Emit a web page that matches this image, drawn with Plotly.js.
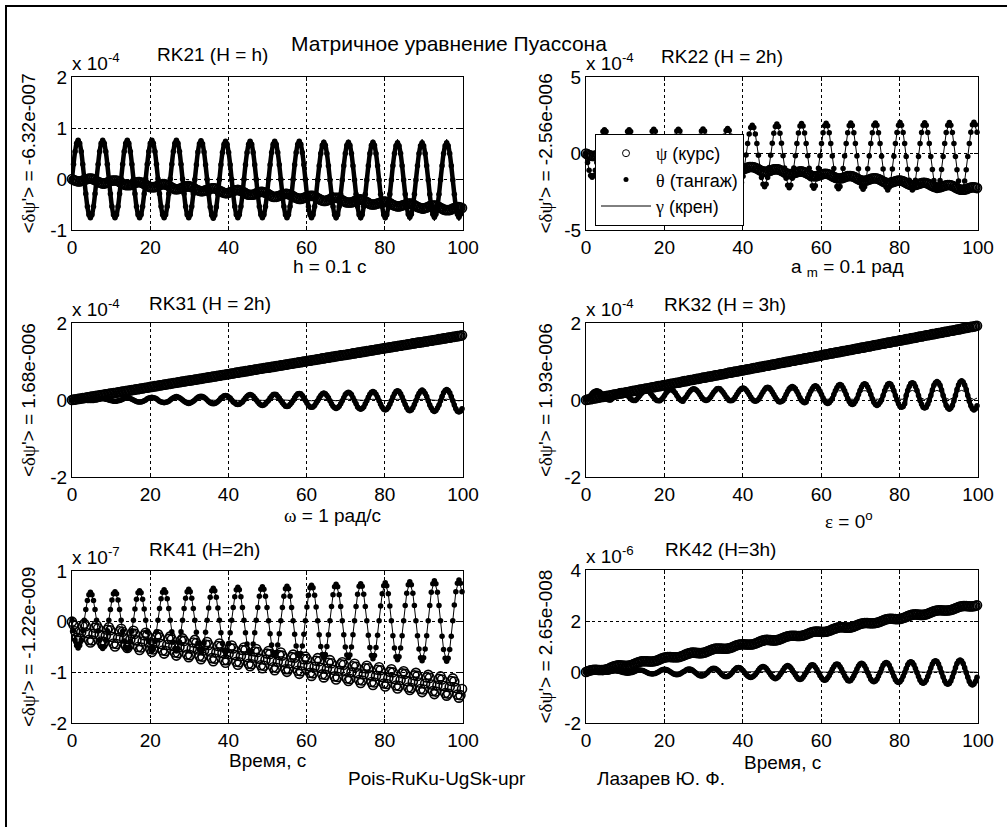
<!DOCTYPE html>
<html><head><meta charset="utf-8">
<script src="https://cdn.plot.ly/plotly-3.0.1.min.js"></script>
<style>html,body{margin:0;padding:0;background:#fff}#chart{width:1007px;height:827px}</style>
</head><body><div id="chart"></div>
<script>
// time samples, s (markers psi/theta)
const t = [
0,.39,.79,1.18,1.57,1.96,2.36,2.75,3.14,3.53,3.93,4.32,4.71,5.11,5.5,5.89,
6.28,6.68,7.07,7.46,7.85,8.25,8.64,9.03,9.42,9.82,10.21,10.6,11,11.39,11.78,12.17,
12.57,12.96,13.35,13.74,14.14,14.53,14.92,15.32,15.71,16.1,16.49,16.89,17.28,17.67,18.06,18.46,
18.85,19.24,19.64,20.03,20.42,20.81,21.21,21.6,21.99,22.38,22.78,23.17,23.56,23.95,24.35,24.74,
25.13,25.53,25.92,26.31,26.7,27.1,27.49,27.88,28.27,28.67,29.06,29.45,29.85,30.24,30.63,31.02,
31.42,31.81,32.2,32.59,32.99,33.38,33.77,34.16,34.56,34.95,35.34,35.74,36.13,36.52,36.91,37.31,
37.7,38.09,38.48,38.88,39.27,39.66,40.06,40.45,40.84,41.23,41.63,42.02,42.41,42.8,43.2,43.59,
43.98,44.37,44.77,45.16,45.55,45.95,46.34,46.73,47.12,47.52,47.91,48.3,48.69,49.09,49.48,49.87,
50.27,50.66,51.05,51.44,51.84,52.23,52.62,53.01,53.41,53.8,54.19,54.59,54.98,55.37,55.76,56.16,
56.55,56.94,57.33,57.73,58.12,58.51,58.9,59.3,59.69,60.08,60.48,60.87,61.26,61.65,62.05,62.44,
62.83,63.22,63.62,64.01,64.4,64.8,65.19,65.58,65.97,66.37,66.76,67.15,67.54,67.94,68.33,68.72,
69.12,69.51,69.9,70.29,70.69,71.08,71.47,71.86,72.26,72.65,73.04,73.43,73.83,74.22,74.61,75.01,
75.4,75.79,76.18,76.58,76.97,77.36,77.75,78.15,78.54,78.93,79.33,79.72,80.11,80.5,80.9,81.29,
81.68,82.07,82.47,82.86,83.25,83.64,84.04,84.43,84.82,85.22,85.61,86,86.39,86.79,87.18,87.57,
87.96,88.36,88.75,89.14,89.54,89.93,90.32,90.71,91.11,91.5,91.89,92.28,92.68,93.07,93.46,93.86,
94.25,94.64,95.03,95.43,95.82,96.21,96.6,97,97.39,97.78,98.17,98.57,98.96,99.35,99.75];
// time samples, s (gamma line)
const tG = [
0,.79,1.57,2.36,3.14,3.93,4.71,5.5, 6.28,7.07,7.85,8.64,9.42,10.21,11,11.78,
12.57,13.35,14.14,14.92,15.71,16.49,17.28,18.06, 18.85,19.64,20.42,21.21,21.99,22.78,23.56,24.35,
25.13,25.92,26.7,27.49,28.27,29.06,29.85,30.63, 31.42,32.2,32.99,33.77,34.56,35.34,36.13,36.91,
37.7,38.48,39.27,40.06,40.84,41.63,42.41,43.2, 43.98,44.77,45.55,46.34,47.12,47.91,48.69,49.48,
50.27,51.05,51.84,52.62,53.41,54.19,54.98,55.76, 56.55,57.33,58.12,58.9,59.69,60.48,61.26,62.05,
62.83,63.62,64.4,65.19,65.97,66.76,67.54,68.33, 69.12,69.9,70.69,71.47,72.26,73.04,73.83,74.61,
75.4,76.18,76.97,77.75,78.54,79.33,80.11,80.9, 81.68,82.47,83.25,84.04,84.82,85.61,86.39,87.18,
87.96,88.75,89.54,90.32,91.11,91.89,92.68,93.46, 94.25,95.03,95.82,96.6,97.39,98.17,98.96,99.75];

// ---------- RK21 (x 1e-4) ----------
const rk21_psi = [
0,-.02,-.03,-.04,-.05,-.05,-.04,-.03,-.02,-.01,0,.01,.01,.01,-.01,-.02,
-.04,-.06,-.07,-.08,-.09,-.09,-.08,-.07,-.06,-.04,-.03,-.03,-.03,-.03,-.04,-.06,
-.08,-.09,-.11,-.12,-.12,-.12,-.12,-.11,-.09,-.08,-.07,-.06,-.06,-.07,-.08,-.1,
-.11,-.13,-.15,-.16,-.16,-.16,-.16,-.15,-.13,-.12,-.11,-.1,-.1,-.11,-.12,-.13,
-.15,-.17,-.18,-.2,-.2,-.2,-.19,-.18,-.17,-.16,-.15,-.14,-.14,-.15,-.16,-.17,
-.19,-.21,-.22,-.23,-.24,-.24,-.23,-.22,-.21,-.2,-.19,-.18,-.18,-.18,-.19,-.21,
-.23,-.24,-.26,-.27,-.28,-.28,-.27,-.26,-.25,-.23,-.22,-.22,-.21,-.22,-.23,-.25,
-.26,-.28,-.3,-.31,-.31,-.31,-.31,-.3,-.28,-.27,-.26,-.25,-.25,-.26,-.27,-.28,
-.3,-.32,-.34,-.35,-.35,-.35,-.34,-.33,-.32,-.31,-.3,-.29,-.29,-.3,-.31,-.32,
-.34,-.36,-.37,-.38,-.39,-.39,-.38,-.37,-.36,-.35,-.34,-.33,-.33,-.33,-.34,-.36,
-.38,-.39,-.41,-.42,-.43,-.43,-.42,-.41,-.4,-.38,-.37,-.37,-.37,-.37,-.38,-.4,
-.42,-.43,-.45,-.46,-.46,-.46,-.46,-.45,-.43,-.42,-.41,-.4,-.4,-.41,-.42,-.44,
-.45,-.47,-.49,-.5,-.5,-.5,-.49,-.48,-.47,-.46,-.45,-.44,-.44,-.45,-.46,-.47,
-.49,-.51,-.52,-.53,-.54,-.54,-.53,-.52,-.51,-.5,-.49,-.48,-.48,-.48,-.5,-.51,
-.53,-.55,-.56,-.57,-.58,-.58,-.57,-.56,-.55,-.53,-.52,-.52,-.52,-.52,-.53,-.55,
-.57,-.58,-.6,-.61,-.61,-.61,-.61,-.6,-.58,-.57,-.56,-.55,-.55,-.56,-.57];
const rk21_theta = [
0,.29,.54,.7,.76,.7,.54,.29,0,-.29,-.54,-.7,-.76,-.7,-.54,-.29,
0,.29,.54,.7,.76,.7,.54,.29,0,-.29,-.54,-.7,-.76,-.7,-.54,-.29,
0,.29,.54,.7,.76,.7,.54,.29,0,-.29,-.54,-.7,-.76,-.7,-.54,-.29,
0,.29,.54,.7,.76,.7,.54,.29,0,-.29,-.54,-.7,-.76,-.7,-.54,-.29,
0,.29,.54,.7,.76,.7,.54,.29,0,-.29,-.54,-.7,-.76,-.7,-.54,-.29,
-.01,.28,.53,.69,.75,.69,.53,.28,-.01,-.3,-.55,-.71,-.77,-.71,-.55,-.3,
-.01,.28,.52,.68,.74,.68,.52,.28,-.01,-.3,-.54,-.7,-.76,-.7,-.54,-.3,
-.01,.28,.52,.68,.74,.68,.52,.28,-.01,-.3,-.54,-.7,-.76,-.7,-.54,-.3,
-.01,.28,.52,.68,.74,.68,.52,.28,-.01,-.3,-.54,-.7,-.76,-.7,-.54,-.3,
-.01,.28,.52,.68,.74,.68,.52,.28,-.01,-.3,-.54,-.7,-.76,-.7,-.54,-.3,
-.02,.26,.5,.66,.72,.66,.5,.26,-.02,-.3,-.54,-.7,-.76,-.7,-.54,-.3,
-.02,.26,.5,.66,.72,.66,.5,.26,-.02,-.3,-.54,-.7,-.76,-.7,-.54,-.3,
-.02,.26,.5,.66,.72,.66,.5,.26,-.02,-.3,-.54,-.7,-.76,-.7,-.54,-.3,
-.02,.26,.5,.65,.71,.65,.5,.26,-.02,-.3,-.54,-.69,-.75,-.69,-.54,-.3,
-.02,.26,.5,.65,.71,.65,.5,.26,-.02,-.3,-.54,-.69,-.75,-.69,-.54,-.3,
-.02,.26,.5,.65,.71,.65,.5,.26,-.02,-.3,-.54,-.69,-.75,-.69,-.54];
const rk21_gamma = [
0,.54,.77,.54,0,-.54,-.77,-.54, 0,.54,.77,.54,0,-.54,-.77,-.54,
0,.54,.77,.54,0,-.54,-.77,-.54, 0,.54,.77,.54,0,-.54,-.77,-.54,
0,.54,.77,.54,0,-.54,-.77,-.54, -.01,.53,.76,.53,-.01,-.55,-.78,-.55,
-.01,.54,.77,.54,-.01,-.56,-.79,-.56, -.01,.54,.77,.54,-.01,-.56,-.79,-.56,
-.01,.54,.77,.54,-.01,-.56,-.79,-.56, -.01,.54,.77,.54,-.01,-.56,-.79,-.56,
-.02,.54,.77,.54,-.02,-.58,-.81,-.58, -.02,.54,.77,.54,-.02,-.58,-.81,-.58,
-.02,.54,.77,.54,-.02,-.58,-.81,-.58, -.02,.55,.78,.55,-.02,-.59,-.82,-.59,
-.02,.55,.78,.55,-.02,-.59,-.82,-.59, -.02,.55,.78,.55,-.02,-.59,-.82,-.59];

// ---------- RK22 (x 1e-4) ----------
const rk22_psi = [
0,-.06,-.1,-.14,-.16,-.16,-.14,-.11,-.07,-.04,-.01,.01,.01,-.01,-.04,-.09,
-.15,-.2,-.25,-.29,-.31,-.31,-.29,-.26,-.22,-.19,-.16,-.14,-.14,-.16,-.19,-.24,
-.3,-.35,-.4,-.43,-.45,-.45,-.44,-.41,-.37,-.33,-.3,-.29,-.29,-.3,-.34,-.39,
-.44,-.5,-.55,-.58,-.6,-.6,-.58,-.55,-.52,-.48,-.45,-.43,-.43,-.45,-.49,-.54,
-.59,-.65,-.69,-.73,-.75,-.75,-.73,-.7,-.67,-.63,-.6,-.58,-.58,-.6,-.64,-.68,
-.74,-.79,-.84,-.88,-.9,-.9,-.88,-.85,-.81,-.78,-.75,-.73,-.73,-.75,-.78,-.83,
-.89,-.94,-.99,-1.03,-1.04,-1.04,-1.03,-1,-.96,-.92,-.89,-.88,-.88,-.9,-.93,-.98,
-1.03,-1.09,-1.14,-1.17,-1.19,-1.19,-1.17,-1.15,-1.11,-1.07,-1.04,-1.03,-1.03,-1.04,-1.08,-1.13,
-1.18,-1.24,-1.29,-1.32,-1.34,-1.34,-1.32,-1.29,-1.26,-1.22,-1.19,-1.17,-1.17,-1.19,-1.23,-1.27,
-1.33,-1.38,-1.43,-1.47,-1.49,-1.49,-1.47,-1.44,-1.4,-1.37,-1.34,-1.32,-1.32,-1.34,-1.37,-1.42,
-1.48,-1.53,-1.58,-1.62,-1.63,-1.63,-1.62,-1.59,-1.55,-1.51,-1.48,-1.47,-1.47,-1.49,-1.52,-1.57,
-1.63,-1.68,-1.73,-1.76,-1.78,-1.78,-1.77,-1.74,-1.7,-1.66,-1.63,-1.62,-1.62,-1.63,-1.67,-1.72,
-1.77,-1.83,-1.88,-1.91,-1.93,-1.93,-1.91,-1.88,-1.85,-1.81,-1.78,-1.76,-1.76,-1.78,-1.82,-1.86,
-1.92,-1.98,-2.02,-2.06,-2.08,-2.08,-2.06,-2.03,-1.99,-1.96,-1.93,-1.91,-1.91,-1.93,-1.96,-2.01,
-2.07,-2.12,-2.17,-2.21,-2.23,-2.23,-2.21,-2.18,-2.14,-2.11,-2.08,-2.06,-2.06,-2.08,-2.11,-2.16,
-2.22,-2.27,-2.32,-2.36,-2.37,-2.37,-2.36,-2.33,-2.29,-2.25,-2.22,-2.21,-2.21,-2.23,-2.26];
const rk22_theta = [
0,-.59,-1.1,-1.43,-1.55,-1.43,-1.1,-.59,0,.59,1.1,1.43,1.55,1.43,1.1,.59,
0,-.59,-1.1,-1.43,-1.55,-1.43,-1.1,-.59,0,.59,1.1,1.43,1.55,1.43,1.1,.59,
-.02,-.63,-1.15,-1.5,-1.62,-1.5,-1.15,-.63,-.02,.59,1.11,1.46,1.58,1.46,1.11,.59,
-.03,-.65,-1.18,-1.53,-1.65,-1.53,-1.18,-.65,-.03,.59,1.12,1.47,1.59,1.47,1.12,.59,
-.05,-.68,-1.22,-1.57,-1.7,-1.57,-1.22,-.68,-.05,.58,1.12,1.47,1.6,1.47,1.12,.58,
-.06,-.71,-1.26,-1.63,-1.76,-1.63,-1.26,-.71,-.06,.59,1.14,1.51,1.64,1.51,1.14,.59,
-.1,-.85,-1.48,-1.9,-2.05,-1.9,-1.48,-.85,-.1,.65,1.28,1.7,1.85,1.7,1.28,.65,
-.12,-.91,-1.57,-2.01,-2.17,-2.01,-1.57,-.91,-.12,.67,1.33,1.77,1.93,1.77,1.33,.67,
-.14,-.94,-1.62,-2.08,-2.24,-2.08,-1.62,-.94,-.14,.66,1.34,1.8,1.96,1.8,1.34,.66,
-.15,-.96,-1.65,-2.11,-2.27,-2.11,-1.65,-.96,-.15,.66,1.35,1.81,1.97,1.81,1.35,.66,
-.16,-.98,-1.68,-2.15,-2.31,-2.15,-1.68,-.98,-.16,.66,1.36,1.83,1.99,1.83,1.36,.66,
-.17,-1,-1.7,-2.18,-2.34,-2.18,-1.7,-1,-.17,.66,1.36,1.84,2,1.84,1.36,.66,
-.18,-1.02,-1.74,-2.21,-2.38,-2.21,-1.74,-1.02,-.18,.66,1.38,1.85,2.02,1.85,1.38,.66,
-.19,-1.03,-1.75,-2.22,-2.39,-2.22,-1.75,-1.03,-.19,.65,1.37,1.84,2.01,1.84,1.37,.65,
-.2,-1.05,-1.77,-2.25,-2.42,-2.25,-1.77,-1.05,-.2,.65,1.37,1.85,2.02,1.85,1.37,.65,
-.2,-1.06,-1.79,-2.28,-2.45,-2.28,-1.79,-1.06,-.2,.66,1.39,1.88,2.05,1.88,1.39];
const rk22_gamma = [
0,-1.1,-1.55,-1.1,0,1.1,1.55,1.1, 0,-1.1,-1.55,-1.1,0,1.1,1.55,1.1,
-.02,-1.15,-1.62,-1.15,-.02,1.11,1.58,1.11, -.03,-1.18,-1.65,-1.18,-.03,1.12,1.59,1.12,
-.05,-1.22,-1.7,-1.22,-.05,1.12,1.6,1.12, -.06,-1.26,-1.76,-1.26,-.06,1.14,1.64,1.14,
-.1,-1.48,-2.05,-1.48,-.1,1.28,1.85,1.28, -.12,-1.57,-2.17,-1.57,-.12,1.33,1.93,1.33,
-.14,-1.62,-2.24,-1.62,-.14,1.34,1.96,1.34, -.15,-1.65,-2.27,-1.65,-.15,1.35,1.97,1.35,
-.16,-1.68,-2.31,-1.68,-.16,1.36,1.99,1.36, -.17,-1.7,-2.34,-1.7,-.17,1.36,2,1.36,
-.18,-1.74,-2.38,-1.74,-.18,1.38,2.02,1.38, -.19,-1.75,-2.39,-1.75,-.19,1.37,2.01,1.37,
-.2,-1.77,-2.42,-1.77,-.2,1.37,2.02,1.37, -.2,-1.79,-2.45,-1.79,-.2,1.39,2.05,1.39];

// ---------- RK31 (x 1e-4) ----------
const rk31_psi = [
0,.01,.01,.02,.03,.03,.04,.05,.05,.06,.07,.07,.08,.09,.09,.1,
.11,.11,.12,.13,.13,.14,.15,.15,.16,.17,.17,.18,.18,.19,.2,.2,
.21,.22,.22,.23,.24,.24,.25,.26,.26,.27,.28,.28,.29,.3,.3,.31,
.32,.32,.33,.34,.34,.35,.36,.36,.37,.38,.38,.39,.4,.4,.41,.42,
.42,.43,.44,.44,.45,.46,.46,.47,.48,.48,.49,.5,.5,.51,.51,.52,
.53,.53,.54,.55,.55,.56,.57,.57,.58,.59,.59,.6,.61,.61,.62,.63,
.63,.64,.65,.65,.66,.67,.67,.68,.69,.69,.7,.71,.71,.72,.73,.73,
.74,.75,.75,.76,.77,.77,.78,.79,.79,.8,.81,.81,.82,.83,.83,.84,
.84,.85,.86,.86,.87,.88,.88,.89,.9,.9,.91,.92,.92,.93,.94,.94,
.95,.96,.96,.97,.98,.98,.99,1,1,1.01,1.02,1.02,1.03,1.04,1.04,1.05,
1.06,1.06,1.07,1.08,1.08,1.09,1.1,1.1,1.11,1.12,1.12,1.13,1.14,1.14,1.15,1.16,
1.16,1.17,1.17,1.18,1.19,1.19,1.2,1.21,1.21,1.22,1.23,1.23,1.24,1.25,1.25,1.26,
1.27,1.27,1.28,1.29,1.29,1.3,1.31,1.31,1.32,1.33,1.33,1.34,1.35,1.35,1.36,1.37,
1.37,1.38,1.39,1.39,1.4,1.41,1.41,1.42,1.43,1.43,1.44,1.45,1.45,1.46,1.47,1.47,
1.48,1.49,1.49,1.5,1.5,1.51,1.52,1.52,1.53,1.54,1.54,1.55,1.56,1.56,1.57,1.58,
1.58,1.59,1.6,1.6,1.61,1.62,1.62,1.63,1.64,1.64,1.65,1.66,1.66,1.67,1.68];
const rk31_theta = [
0,0,.01,.01,.01,.01,.01,0,0,0,-.01,-.01,-.01,-.01,-.01,0,
0,.01,.02,.03,.03,.03,.02,.01,0,-.01,-.02,-.03,-.03,-.03,-.02,-.01,
0,.02,.04,.05,.05,.05,.04,.02,0,-.02,-.04,-.05,-.05,-.05,-.04,-.02,
0,.03,.05,.06,.07,.06,.05,.03,0,-.03,-.05,-.06,-.07,-.06,-.05,-.03,
0,.03,.06,.08,.09,.08,.06,.03,0,-.03,-.06,-.08,-.09,-.08,-.06,-.03,
0,.04,.07,.09,.1,.09,.07,.04,0,-.04,-.07,-.09,-.1,-.09,-.07,-.04,
0,.05,.08,.11,.12,.11,.08,.05,0,-.05,-.08,-.11,-.12,-.11,-.08,-.05,
0,.05,.1,.13,.14,.13,.1,.05,0,-.05,-.1,-.13,-.14,-.13,-.1,-.05,
-.01,.05,.1,.14,.15,.14,.1,.05,-.01,-.07,-.12,-.16,-.17,-.16,-.12,-.07,
-.01,.06,.12,.16,.17,.16,.12,.06,-.01,-.08,-.14,-.18,-.19,-.18,-.14,-.08,
-.02,.06,.12,.16,.18,.16,.12,.06,-.02,-.1,-.16,-.2,-.22,-.2,-.16,-.1,
-.02,.06,.14,.18,.2,.18,.14,.06,-.02,-.1,-.18,-.22,-.24,-.22,-.18,-.1,
-.02,.07,.15,.2,.22,.2,.15,.07,-.02,-.11,-.19,-.24,-.26,-.24,-.19,-.11,
-.02,.08,.16,.22,.24,.22,.16,.08,-.02,-.12,-.2,-.26,-.28,-.26,-.2,-.12,
-.02,.09,.17,.23,.26,.23,.17,.09,-.02,-.13,-.21,-.27,-.3,-.27,-.21,-.13,
-.02,.09,.19,.25,.27,.25,.19,.09,-.02,-.13,-.23,-.29,-.31,-.29,-.23];
const rk31_gamma = [
0,.01,.01,.01,0,-.01,-.01,-.01, 0,.01,.01,.01,0,-.01,-.01,-.01,
0,.01,.01,.01,0,-.01,-.01,-.01, 0,.01,.01,.01,0,-.01,-.01,-.01,
0,.01,.01,.01,0,-.01,-.01,-.01, 0,.01,.01,.01,0,-.01,-.01,-.01,
0,.01,.01,.01,0,-.01,-.01,-.01, 0,.01,.01,.01,0,-.01,-.01,-.01,
0,.01,.02,.01,0,-.01,-.02,-.01, 0,.01,.02,.01,0,-.01,-.02,-.01,
0,.01,.02,.01,0,-.01,-.02,-.01, 0,.01,.02,.01,0,-.01,-.02,-.01,
0,.01,.02,.01,0,-.01,-.02,-.01, 0,.01,.02,.01,0,-.01,-.02,-.01,
0,.01,.02,.01,0,-.01,-.02,-.01, 0,.01,.02,.01,0,-.01,-.02,-.01];

// ---------- RK32 (x 1e-4) ----------
const rk32_psi = [
0,.01,.02,.02,.03,.04,.05,.05,.06,.07,.08,.08,.09,.1,.11,.11,
.12,.13,.14,.14,.15,.16,.17,.17,.18,.19,.2,.2,.21,.22,.23,.24,
.24,.25,.26,.27,.27,.28,.29,.3,.3,.31,.32,.33,.33,.34,.35,.36,
.36,.37,.38,.39,.39,.4,.41,.42,.42,.43,.44,.45,.45,.46,.47,.48,
.49,.49,.5,.51,.52,.52,.53,.54,.55,.55,.56,.57,.58,.58,.59,.6,
.61,.61,.62,.63,.64,.64,.65,.66,.67,.67,.68,.69,.7,.71,.71,.72,
.73,.74,.74,.75,.76,.77,.77,.78,.79,.8,.8,.81,.82,.83,.83,.84,
.85,.86,.86,.87,.88,.89,.89,.9,.91,.92,.92,.93,.94,.95,.96,.96,
.97,.98,.99,.99,1,1.01,1.02,1.02,1.03,1.04,1.05,1.05,1.06,1.07,1.08,1.08,
1.09,1.1,1.11,1.11,1.12,1.13,1.14,1.14,1.15,1.16,1.17,1.18,1.18,1.19,1.2,1.21,
1.21,1.22,1.23,1.24,1.24,1.25,1.26,1.27,1.27,1.28,1.29,1.3,1.3,1.31,1.32,1.33,
1.33,1.34,1.35,1.36,1.36,1.37,1.38,1.39,1.39,1.4,1.41,1.42,1.43,1.43,1.44,1.45,
1.46,1.46,1.47,1.48,1.49,1.49,1.5,1.51,1.52,1.52,1.53,1.54,1.55,1.55,1.56,1.57,
1.58,1.58,1.59,1.6,1.61,1.61,1.62,1.63,1.64,1.65,1.65,1.66,1.67,1.68,1.68,1.69,
1.7,1.71,1.71,1.72,1.73,1.74,1.74,1.75,1.76,1.77,1.77,1.78,1.79,1.8,1.8,1.81,
1.82,1.83,1.83,1.84,1.85,1.86,1.87,1.87,1.88,1.89,1.9,1.9,1.91,1.92,1.93];
const rk32_theta = [
.01,.04,.07,.12,.17,.21,.23,.24,.23,.21,.17,.12,.07,.04,.01,0,
0,.03,.07,.12,.17,.21,.24,.25,.24,.21,.17,.12,.07,.03,0,-.01,
-.01,.02,.07,.12,.17,.22,.25,.26,.25,.22,.17,.12,.07,.02,-.01,-.02,
-.02,.01,.06,.12,.18,.23,.26,.27,.26,.23,.18,.12,.06,.01,-.02,-.03,
.03,.08,.14,.2,.25,.28,.29,.28,.25,.2,.14,.08,.03,0,-.01,0,
.03,.08,.14,.2,.25,.29,.3,.29,.25,.2,.14,.08,.03,-.01,-.02,-.01,
.02,.08,.14,.21,.26,.3,.31,.3,.26,.21,.14,.08,.02,-.02,-.03,-.02,
.01,.07,.14,.21,.27,.32,.33,.32,.27,.21,.14,.07,.01,-.04,-.05,-.04,
-.01,.06,.14,.22,.29,.33,.35,.33,.29,.22,.14,.06,-.01,-.05,-.07,-.05,
.05,.14,.23,.3,.35,.37,.35,.3,.23,.14,.05,-.02,-.07,-.09,-.07,-.02,
.04,.14,.24,.32,.38,.4,.38,.32,.24,.14,.04,-.04,-.1,-.12,-.1,-.04,
.03,.14,.25,.34,.4,.42,.4,.34,.25,.14,.03,-.06,-.12,-.14,-.12,-.06,
0,.12,.24,.34,.41,.43,.41,.34,.24,.12,0,-.1,-.17,-.19,-.17,-.1,
.12,.25,.35,.43,.45,.43,.35,.25,.12,-.01,-.11,-.19,-.21,-.19,-.11,-.01,
.12,.26,.38,.45,.48,.45,.38,.26,.12,-.02,-.14,-.21,-.24,-.21,-.14,-.02,
.12,.27,.39,.47,.5,.47,.39,.27,.12,-.03,-.15,-.23,-.26,-.23,-.15];
const rk32_gamma = [
.02,.08,.18,.24,.24,.18,.08,.02, .02,.08,.18,.24,.24,.18,.08,.02,
.02,.08,.18,.24,.24,.18,.08,.02, .02,.08,.18,.24,.24,.18,.08,.02,
.05,.13,.22,.25,.22,.13,.05,.01, .05,.13,.22,.25,.22,.13,.05,.01,
.05,.13,.22,.25,.22,.13,.05,.01, .05,.13,.22,.25,.22,.13,.05,.01,
.05,.13,.22,.25,.22,.13,.05,.01, .08,.18,.24,.24,.18,.08,.02,.02,
.08,.18,.24,.24,.18,.08,.02,.02, .08,.18,.24,.24,.18,.08,.02,.02,
.08,.18,.24,.24,.18,.08,.02,.02, .13,.22,.25,.22,.13,.05,.01,.05,
.13,.22,.25,.22,.13,.05,.01,.05, .13,.22,.25,.22,.13,.05,.01,.05];

// ---------- RK41 (x 1e-7) ----------
const rk41_psi = [
0,-.06,-.19,-.32,-.38,-.33,-.21,-.09,-.04,-.09,-.23,-.36,-.41,-.37,-.24,-.12,
-.07,-.13,-.26,-.39,-.45,-.4,-.28,-.16,-.11,-.17,-.3,-.43,-.49,-.44,-.32,-.19,
-.14,-.2,-.33,-.47,-.52,-.47,-.35,-.23,-.18,-.24,-.37,-.5,-.56,-.51,-.39,-.27,
-.22,-.27,-.41,-.54,-.6,-.55,-.42,-.3,-.25,-.31,-.44,-.57,-.63,-.58,-.46,-.34,
-.29,-.35,-.48,-.61,-.67,-.62,-.5,-.37,-.33,-.38,-.51,-.65,-.7,-.66,-.53,-.41,
-.36,-.42,-.55,-.68,-.74,-.69,-.57,-.45,-.4,-.46,-.59,-.72,-.78,-.73,-.61,-.48,
-.43,-.49,-.62,-.76,-.81,-.76,-.64,-.52,-.47,-.53,-.66,-.79,-.85,-.8,-.68,-.56,
-.51,-.56,-.7,-.83,-.88,-.84,-.71,-.59,-.54,-.6,-.73,-.86,-.92,-.87,-.75,-.63,
-.58,-.64,-.77,-.9,-.96,-.91,-.79,-.66,-.61,-.67,-.8,-.94,-.99,-.94,-.82,-.7,
-.65,-.71,-.84,-.97,-1.03,-.98,-.86,-.74,-.69,-.74,-.88,-1.01,-1.07,-1.02,-.89,-.77,
-.72,-.78,-.91,-1.04,-1.1,-1.05,-.93,-.81,-.76,-.82,-.95,-1.08,-1.14,-1.09,-.97,-.84,
-.8,-.85,-.98,-1.12,-1.17,-1.13,-1,-.88,-.83,-.89,-1.02,-1.15,-1.21,-1.16,-1.04,-.92,
-.87,-.92,-1.06,-1.19,-1.25,-1.2,-1.07,-.95,-.9,-.96,-1.09,-1.22,-1.28,-1.23,-1.11,-.99,
-.94,-1,-1.13,-1.26,-1.32,-1.27,-1.15,-1.02,-.98,-1.03,-1.17,-1.3,-1.35,-1.31,-1.18,-1.06,
-1.01,-1.07,-1.2,-1.33,-1.39,-1.34,-1.22,-1.1,-1.05,-1.11,-1.24,-1.37,-1.43,-1.38,-1.26,-1.13,
-1.08,-1.14,-1.27,-1.41,-1.46,-1.42,-1.29,-1.17,-1.12,-1.18,-1.31,-1.44,-1.5,-1.45,-1.33];
const rk41_theta = [
.03,-.18,-.36,-.47,-.52,-.47,-.36,-.18,.03,.24,.42,.53,.58,.53,.42,.24,
.03,-.18,-.37,-.49,-.53,-.49,-.37,-.18,.03,.24,.43,.55,.59,.55,.43,.24,
.03,-.19,-.38,-.51,-.55,-.51,-.38,-.19,.03,.25,.44,.57,.61,.57,.44,.25,
.03,-.2,-.39,-.52,-.57,-.52,-.39,-.2,.03,.26,.45,.58,.63,.58,.45,.26,
.03,-.2,-.4,-.53,-.58,-.53,-.4,-.2,.03,.26,.46,.59,.64,.59,.46,.26,
.03,-.21,-.42,-.55,-.6,-.55,-.42,-.21,.03,.27,.48,.61,.66,.61,.48,.27,
.03,-.22,-.43,-.57,-.62,-.57,-.43,-.22,.03,.28,.49,.63,.68,.63,.49,.28,
.03,-.22,-.44,-.58,-.63,-.58,-.44,-.22,.03,.28,.5,.64,.69,.64,.5,.28,
.02,-.24,-.46,-.61,-.66,-.61,-.46,-.24,.02,.28,.5,.65,.7,.65,.5,.28,
.02,-.25,-.48,-.63,-.68,-.63,-.48,-.25,.02,.29,.52,.67,.72,.67,.52,.29,
.02,-.26,-.49,-.65,-.7,-.65,-.49,-.26,.02,.3,.53,.69,.74,.69,.53,.3,
.02,-.26,-.5,-.66,-.71,-.66,-.5,-.26,.02,.3,.54,.7,.75,.7,.54,.3,
.02,-.27,-.51,-.67,-.73,-.67,-.51,-.27,.02,.31,.55,.71,.77,.71,.55,.31,
.02,-.28,-.52,-.69,-.75,-.69,-.52,-.28,.02,.32,.56,.73,.79,.73,.56,.32,
.02,-.28,-.54,-.71,-.77,-.71,-.54,-.28,.02,.32,.58,.75,.81,.75,.58,.32,
.02,-.29,-.55,-.72,-.78,-.72,-.55,-.29,.02,.33,.59,.76,.82,.76,.59];
const rk41_gamma = [
.03,-.36,-.52,-.36,.03,.42,.58,.42, .03,-.37,-.53,-.37,.03,.43,.59,.43,
.03,-.38,-.55,-.38,.03,.44,.61,.44, .03,-.39,-.57,-.39,.03,.45,.63,.45,
.03,-.4,-.58,-.4,.03,.46,.64,.46, .03,-.42,-.6,-.42,.03,.48,.66,.48,
.03,-.43,-.62,-.43,.03,.49,.68,.49, .03,-.44,-.63,-.44,.03,.5,.69,.5,
.02,-.46,-.66,-.46,.02,.5,.7,.5, .02,-.48,-.68,-.48,.02,.52,.72,.52,
.02,-.49,-.7,-.49,.02,.53,.74,.53, .02,-.5,-.71,-.5,.02,.54,.75,.54,
.02,-.51,-.73,-.51,.02,.55,.77,.55, .02,-.52,-.75,-.52,.02,.56,.79,.56,
.02,-.54,-.77,-.54,.02,.58,.81,.58, .02,-.55,-.78,-.55,.02,.59,.82,.59];

// ---------- RK42 (x 1e-6) ----------
const rk42_psi = [
0,.03,.05,.07,.08,.09,.09,.09,.08,.08,.08,.08,.09,.1,.12,.14,
.17,.19,.22,.23,.25,.26,.26,.25,.25,.24,.24,.24,.25,.26,.28,.31,
.33,.36,.38,.4,.42,.42,.42,.42,.42,.41,.41,.41,.42,.43,.45,.47,
.5,.53,.55,.57,.58,.59,.59,.59,.58,.58,.58,.58,.58,.6,.62,.64,
.67,.69,.72,.73,.75,.76,.76,.75,.75,.74,.74,.74,.75,.76,.78,.81,
.83,.86,.88,.9,.92,.92,.92,.92,.92,.91,.91,.91,.92,.93,.95,.97,
1,1.03,1.05,1.07,1.08,1.09,1.09,1.09,1.08,1.08,1.08,1.08,1.08,1.1,1.12,1.14,
1.17,1.19,1.22,1.23,1.25,1.26,1.26,1.25,1.25,1.24,1.24,1.24,1.25,1.26,1.28,1.31,
1.33,1.36,1.38,1.4,1.41,1.42,1.42,1.42,1.42,1.41,1.41,1.41,1.42,1.43,1.45,1.47,
1.5,1.52,1.55,1.57,1.58,1.59,1.59,1.59,1.58,1.58,1.57,1.58,1.58,1.6,1.62,1.64,
1.67,1.69,1.71,1.73,1.75,1.75,1.76,1.75,1.75,1.74,1.74,1.74,1.75,1.76,1.78,1.81,
1.83,1.86,1.88,1.9,1.91,1.92,1.92,1.92,1.91,1.91,1.91,1.91,1.92,1.93,1.95,1.97,
2,2.02,2.05,2.07,2.08,2.09,2.09,2.09,2.08,2.08,2.07,2.08,2.08,2.1,2.12,2.14,
2.16,2.19,2.21,2.23,2.25,2.25,2.26,2.25,2.25,2.24,2.24,2.24,2.25,2.26,2.28,2.31,
2.33,2.36,2.38,2.4,2.41,2.42,2.42,2.42,2.41,2.41,2.41,2.41,2.42,2.43,2.45,2.47,
2.5,2.52,2.55,2.57,2.58,2.59,2.59,2.59,2.58,2.58,2.57,2.58,2.58,2.6,2.62];
const rk42_theta = [
.01,.01,.01,.02,.01,.01,.01,0,-.01,-.01,-.01,-.02,-.01,-.01,-.01,0,
.02,.03,.04,.05,.04,.03,.02,0,-.02,-.03,-.04,-.05,-.04,-.03,-.02,0,
.03,.06,.07,.08,.07,.06,.03,0,-.03,-.06,-.07,-.08,-.07,-.06,-.03,0,
.04,.08,.1,.11,.1,.08,.04,0,-.04,-.08,-.1,-.11,-.1,-.08,-.04,0,
.03,.08,.11,.12,.11,.08,.03,-.02,-.07,-.12,-.15,-.16,-.15,-.12,-.07,-.02,
.05,.1,.14,.15,.14,.1,.05,-.02,-.09,-.14,-.18,-.19,-.18,-.14,-.09,-.02,
.06,.12,.17,.18,.17,.12,.06,-.02,-.1,-.16,-.2,-.22,-.2,-.16,-.1,-.02,
.07,.15,.2,.22,.2,.15,.07,-.02,-.11,-.19,-.24,-.26,-.24,-.19,-.11,-.02,
.08,.17,.23,.25,.23,.17,.08,-.02,-.12,-.21,-.27,-.29,-.27,-.21,-.12,-.02,
.1,.19,.26,.28,.26,.19,.1,-.02,-.14,-.23,-.3,-.32,-.3,-.23,-.14,-.02,
.11,.21,.29,.31,.29,.21,.11,-.02,-.15,-.25,-.33,-.35,-.33,-.25,-.15,-.02,
.12,.24,.31,.34,.31,.24,.12,-.02,-.16,-.28,-.35,-.38,-.35,-.28,-.16,-.02,
.13,.26,.34,.37,.34,.26,.13,-.02,-.17,-.3,-.38,-.41,-.38,-.3,-.17,-.02,
.14,.28,.37,.4,.37,.28,.14,-.02,-.18,-.32,-.41,-.44,-.41,-.32,-.18,-.02,
.16,.31,.41,.44,.41,.31,.16,-.02,-.2,-.35,-.45,-.48,-.45,-.35,-.2,-.02,
.17,.33,.43,.47,.43,.33,.17,-.02,-.21,-.37,-.47,-.51,-.47,-.37,-.21];
const rk42_gamma = [
0,0,.01,0,0,0,-.01,0, 0,0,.01,0,0,0,-.01,0,
0,0,.01,0,0,0,-.01,0, 0,0,.01,0,0,0,-.01,0,
0,0,.01,0,0,0,-.01,0, 0,0,.01,0,0,0,-.01,0,
0,0,.01,0,0,0,-.01,0, 0,0,.01,0,0,0,-.01,0,
0,.01,.02,.01,0,-.01,-.02,-.01, 0,.01,.02,.01,0,-.01,-.02,-.01,
0,.01,.02,.01,0,-.01,-.02,-.01, 0,.01,.02,.01,0,-.01,-.02,-.01,
0,.01,.02,.01,0,-.01,-.02,-.01, 0,.01,.02,.01,0,-.01,-.02,-.01,
0,.01,.02,.01,0,-.01,-.02,-.01, 0,.01,.02,.01,0,-.01,-.02,-.01];

// ---------- texts & ticks ----------
const xTicks = [0, 20, 40, 60, 80, 100];
const yTicks = [[-1,0,1,2],[-5,0,5],[-2,0,2],[-2,0,2],[-2,-1,0,1],[-2,0,2,4]];
const yRanges = [[-1,2],[-5,5],[-2,2],[-2,2],[-2,1],[-2,4]];
const panelTitles = ['RK21 (H = h)','RK22 (H = 2h)','RK31 (H = 2h)','RK32 (H = 3h)','RK41 (H=2h)','RK42 (H=3h)'];
const exponents = ['-4','-4','-4','-4','-7','-6'];
const meanRates = ['-6.32e-007','-2.56e-006','1.68e-006','1.93e-006','-1.22e-009','2.65e-008'];
const G = s => '<span style="font-family:Liberation Serif, Times New Roman, serif">' + s + '</span>';
const xLabels = ['h = 0.1 c', 'a <sub>m</sub> = 0.1 рад', G('ω') + ' = 1 рад/с', G('ε') + ' = 0<sup>o</sup>', 'Время, с', 'Время, с'];
const mainTitle = 'Матричное уравнение Пуассона';
const footLeft = 'Pois-RuKu-UgSk-upr';
const footRight = 'Лазарев Ю. Ф.';
const legendNames = [G('ψ') + ' (курс)', G('θ') + ' (тангаж)', G('γ') + ' (крен)'];

const panels = [
  {psi: rk21_psi, theta: rk21_theta, gamma: rk21_gamma, solid: true},
  {psi: rk22_psi, theta: rk22_theta, gamma: rk22_gamma, solid: false},
  {psi: rk31_psi, theta: rk31_theta, gamma: rk31_gamma, solid: true},
  {psi: rk32_psi, theta: rk32_theta, gamma: rk32_gamma, solid: true},
  {psi: rk41_psi, theta: rk41_theta, gamma: rk41_gamma, solid: false},
  {psi: rk42_psi, theta: rk42_theta, gamma: rk42_gamma, solid: true}
];

// ---------- layout geometry (pixels) ----------
const W = 1007, H = 827;
const px = v => v / W, py = v => 1 - v / H;
const boxes = [[72,463,77,230],[586,978,77,230],[72,463,323,477],[586,978,323,477],[72,463,571,723],[586,978,570,723]];
const titlePos = [[212,55],[722,57],[210,303],[725,304],[204,549],[720,549]];
const xLabelPos = [[329,266],[847,268],[332,515],[849,520],[267,760],[782,762]];
const yLabelX = [28, 545, 28, 545, 28, 545];
const FONT = 'Liberation Sans, Arial, Helvetica, sans-serif';

const traces = [];
panels.forEach((p, i) => {
  const s = i ? String(i + 1) : '';
  traces.push({x: t, y: p.psi, xaxis: 'x' + s, yaxis: 'y' + s, type: 'scatter', mode: 'markers',
    marker: {symbol: 'circle-open', size: 9, color: '#000', line: {width: 1.6, color: '#000'}},
    showlegend: false, cliponaxis: false, hoverinfo: 'skip'});
  traces.push({x: t, y: p.theta, xaxis: 'x' + s, yaxis: 'y' + s, type: 'scatter',
    mode: p.solid ? 'lines+markers' : 'markers',
    line: {color: '#000', width: 4.5, shape: 'spline'},
    marker: {symbol: 'circle', size: 5.5, color: '#000'},
    showlegend: false, cliponaxis: false, hoverinfo: 'skip'});
  traces.push({x: tG, y: p.gamma, xaxis: 'x' + s, yaxis: 'y' + s, type: 'scatter', mode: 'lines',
    line: {color: '#000', width: 1}, showlegend: false, hoverinfo: 'skip'});
});
// legend entries
traces.push({x: [null], y: [null], xaxis: 'x2', yaxis: 'y2', type: 'scatter', mode: 'markers', name: legendNames[0],
  marker: {symbol: 'circle-open', size: 7, color: '#000', line: {width: 1, color: '#000'}}});
traces.push({x: [null], y: [null], xaxis: 'x2', yaxis: 'y2', type: 'scatter', mode: 'markers', name: legendNames[1],
  marker: {symbol: 'circle', size: 5, color: '#000'}});
traces.push({x: [null], y: [null], xaxis: 'x2', yaxis: 'y2', type: 'scatter', mode: 'lines', name: legendNames[2],
  line: {color: '#000', width: 1}});

const axBase = {showline: true, linecolor: '#000', linewidth: 1, mirror: 'ticks', ticks: 'inside', ticklen: 4,
  tickcolor: '#000', showgrid: true, gridcolor: '#000', griddash: 'dot', gridwidth: 1, zeroline: false,
  tickfont: {family: FONT, size: 19, color: '#000'}, fixedrange: true};

const layout = {width: W, height: H, margin: {l: 0, r: 0, t: 0, b: 0}, paper_bgcolor: '#fff', plot_bgcolor: '#fff',
  showlegend: true, font: {family: FONT, size: 19, color: '#000'},
  legend: {x: px(595), y: py(134), xanchor: 'left', yanchor: 'top', bgcolor: '#fff', bordercolor: '#000', borderwidth: 1,
    font: {family: FONT, size: 18, color: '#000'}, itemwidth: 50, traceorder: 'normal'},
  annotations: [], shapes: []};

boxes.forEach((b, i) => {
  const s = i ? String(i + 1) : '';
  layout['xaxis' + s] = Object.assign({}, axBase, {domain: [px(b[0]), px(b[1])], range: [0, 100], anchor: 'y' + s,
    tickvals: xTicks, ticktext: xTicks.map(String)});
  layout['yaxis' + s] = Object.assign({}, axBase, {domain: [py(b[3]), py(b[2])], range: yRanges[i], anchor: 'x' + s,
    tickvals: yTicks[i], ticktext: yTicks[i].map(String)});
  const A = (text, x, y, o) => layout.annotations.push(Object.assign({text: text, x: px(x), y: py(y), xref: 'paper', yref: 'paper',
    showarrow: false, font: {family: FONT, size: 19, color: '#000'}}, o || {}));
  A(panelTitles[i], titlePos[i][0], titlePos[i][1], {xanchor: 'center', yanchor: 'middle'});
  A(xLabels[i], xLabelPos[i][0], xLabelPos[i][1], {xanchor: 'center', yanchor: 'middle'});
  A('&lt;' + G('δψ') + '\'&gt; = ' + meanRates[i], yLabelX[i], (b[2] + b[3]) / 2, {xanchor: 'center', yanchor: 'middle', textangle: -90});
  A('x 10<sup>' + exponents[i] + '</sup>', b[0] - 2, b[2] - 1, {xanchor: 'left', yanchor: 'bottom'});
});
layout.annotations.push({text: mainTitle, x: px(449), y: py(43), xref: 'paper', yref: 'paper', showarrow: false,
  xanchor: 'center', yanchor: 'middle', font: {family: FONT, size: 21, color: '#000'}});
layout.annotations.push({text: footLeft, x: px(437), y: py(778), xref: 'paper', yref: 'paper', showarrow: false,
  xanchor: 'center', yanchor: 'middle', font: {family: FONT, size: 19, color: '#000'}});
layout.annotations.push({text: footRight, x: px(661), y: py(778), xref: 'paper', yref: 'paper', showarrow: false,
  xanchor: 'center', yanchor: 'middle', font: {family: FONT, size: 19, color: '#000'}});
layout.shapes.push({type: 'rect', xref: 'paper', yref: 'paper', x0: px(6), x1: 1.05, y0: -0.05, y1: py(6),
  line: {color: '#000', width: 2}, fillcolor: 'rgba(0,0,0,0)', layer: 'above'});

Plotly.newPlot('chart', traces, layout, {staticPlot: true, displayModeBar: false});
</script>
</body></html>
